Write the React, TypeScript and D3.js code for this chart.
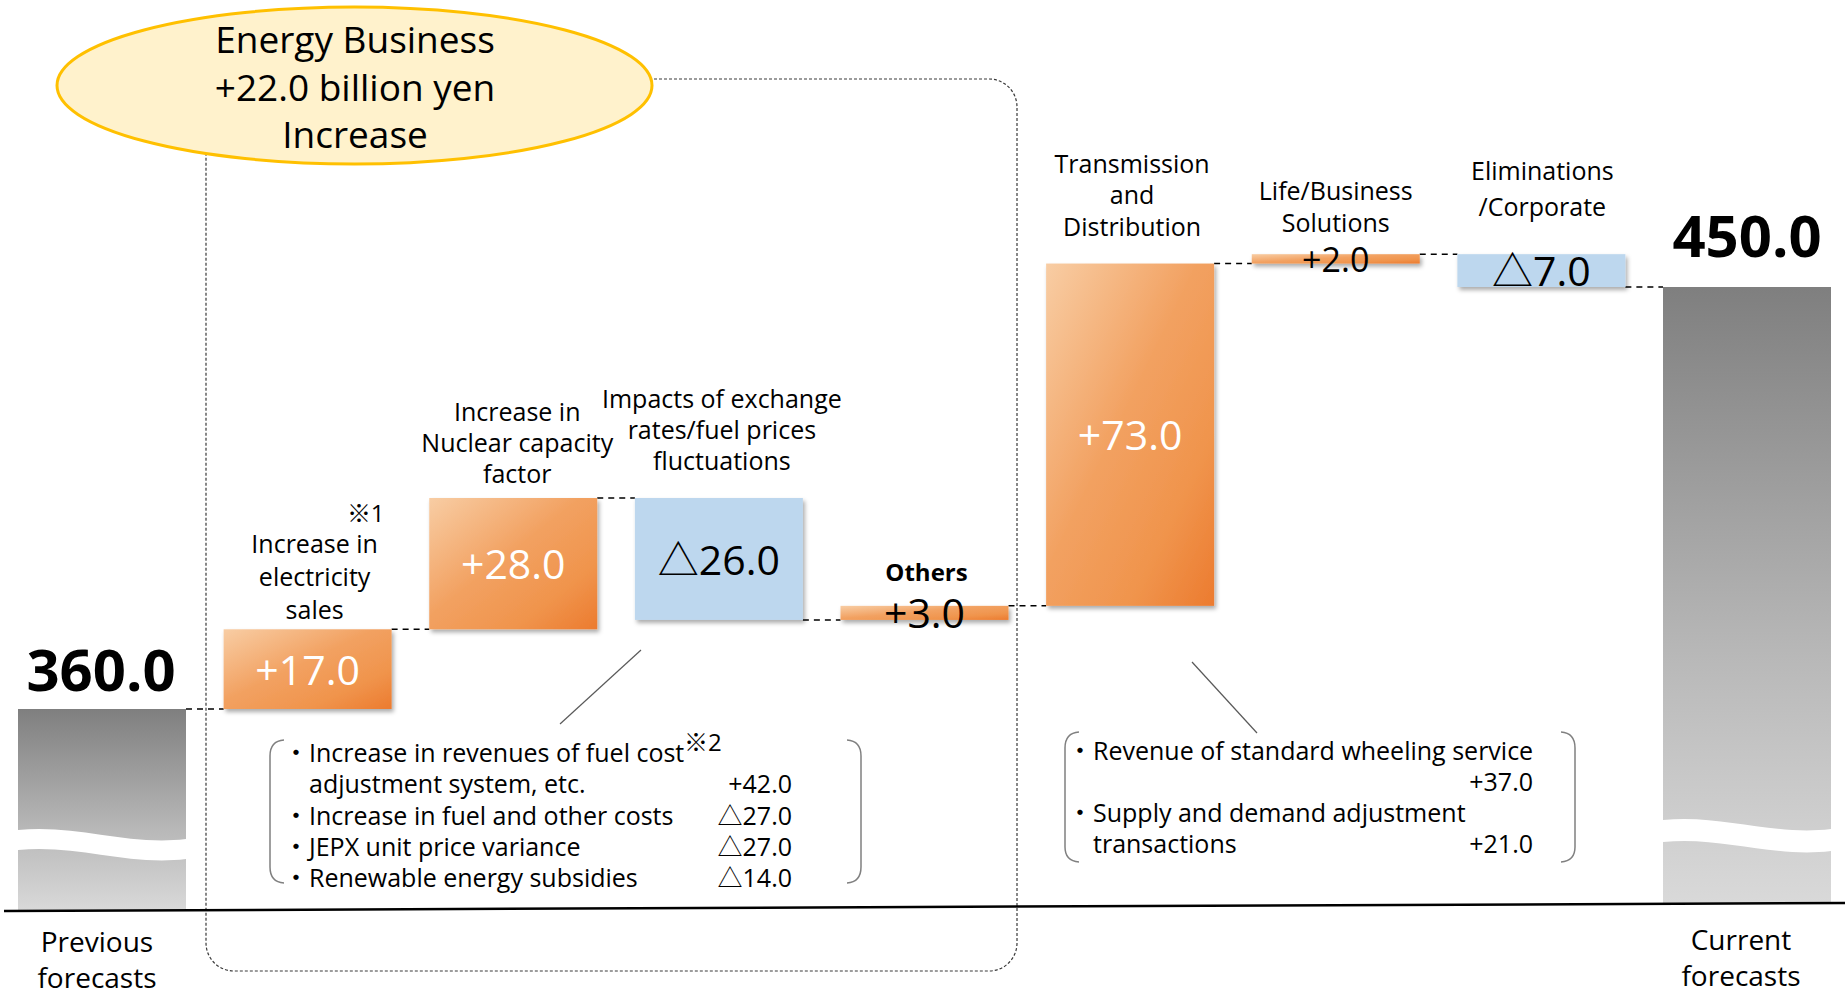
import React from 'react';
import * as d3 from 'd3';

// ---------------- data ----------------
const startLabel = ['Previous', 'forecasts'];
const endLabel = ['Current', 'forecasts'];
const startValue = 360.0;
const endValue = 450.0;
const startValueText = '360.0';
const endValueText = '450.0';
const stepNames = [
  'Increase in electricity sales',
  'Increase in Nuclear capacity factor',
  'Impacts of exchange rates/fuel prices fluctuations',
  'Others',
  'Transmission and Distribution',
  'Life/Business Solutions',
  'Eliminations/Corporate',
];
const stepDeltas = [17.0, 28.0, -26.0, 3.0, 73.0, 2.0, -7.0];
const stepValueText = ['+17.0', '+28.0', '△26.0', '+3.0', '+73.0', '+2.0', '△7.0'];
const stepHeaderLines = [
  ['Increase in', 'electricity', 'sales'],
  ['Increase in', 'Nuclear capacity', 'factor'],
  ['Impacts of exchange', 'rates/fuel prices', 'fluctuations'],
  ['Others'],
  ['Transmission', 'and', 'Distribution'],
  ['Life/Business', 'Solutions'],
  ['Eliminations', '/Corporate'],
];
const energyTitle = ['Energy Business', '+22.0 billion yen', 'Increase'];
const energyItemLines = [
  ['Increase in revenues of fuel cost', 'adjustment system, etc.'],
  ['Increase in fuel and other costs'],
  ['JEPX unit price variance'],
  ['Renewable energy subsidies'],
];
const energyItemValues = ['+42.0', '△27.0', '△27.0', '△14.0'];
const tdItemLines = [
  ['Revenue of standard wheeling service', ''],
  ['Supply and demand adjustment', 'transactions'],
];
const tdItemValues = ['+37.0', '+21.0'];

// ---------------- layout / style ----------------
const W = 1845;
const H = 995;
const FONT = "'Open Sans', 'Noto Sans CJK JP', sans-serif";
const ORANGE = 'url(#gOrange)';
const BLUE = '#BDD7EE';

const stepStyle = [
  { fill: ORANGE, color: '#fff', size: 41, gap: 10, dx: 7, lh: 33, bold: false },
  { fill: ORANGE, color: '#fff', size: 41, gap: 15, dx: 4, lh: 31, bold: false },
  { fill: BLUE, color: '#000', size: 41, gap: 28, dx: 3, lh: 31, bold: false },
  { fill: ORANGE, color: '#000', size: 41, gap: 25, dx: 2, lh: 31, bold: true },
  { fill: ORANGE, color: '#fff', size: 41, gap: 28, dx: 2, lh: 31.5, bold: false },
  { fill: ORANGE, color: '#000', size: 34, gap: 22, dx: 0, lh: 32, bold: false },
  { fill: BLUE, color: '#000', size: 41, gap: 38, dx: 1, lh: 36, bold: false },
];

const axisY = (px: number) => 911 + ((903 - 911) * (px - 4)) / (1845 - 4);

function wavePath(x0: number, w: number, yt: number, band: number) {
  const x1 = x0 + w;
  const top = `M${x0},${yt} C${x0 + 0.35 * w},${yt - 6} ${x0 + 0.65 * w},${yt + 16} ${x1},${yt + 9}`;
  const yb = yt + band;
  const bottom = `L${x1},${yb + 9} C${x0 + 0.65 * w},${yb + 16} ${x0 + 0.35 * w},${yb - 6} ${x0},${yb} Z`;
  return top + ' ' + bottom;
}

export default function App() {
  const cats = ['start', ...stepNames, 'end'];
  const x = d3.scaleBand<string>().domain(cats).range([18, 1831]).paddingInner(0.183).paddingOuter(0);
  const bw = x.bandwidth();
  const y = d3.scaleLinear().domain([startValue, endValue]).range([709, 287]);

  const cum = Array.from(d3.cumsum(stepDeltas)).map((c) => startValue + c);
  const levels = [startValue, ...cum];
  const steps = stepDeltas.map((d, i) => {
    const from = levels[i];
    const to = from + d;
    return { i, name: stepNames[i], from, to, top: y(Math.max(from, to)), bottom: y(Math.min(from, to)) };
  });

  const sx = x('start')!;
  const ex = x('end')!;
  const startTop = y(startValue);
  const endTop = y(endValue);
  const startBottom = axisY(sx + bw / 2);
  const endBottom = axisY(ex + bw / 2);

  const connectors = cats.slice(0, -1).map((c, i) => {
    const level = i === 0 ? startValue : levels[i];
    return { x1: x(c)! + bw, x2: x(cats[i + 1])!, yv: y(level) };
  });

  const listFont = 25;

  return (
    <svg
      width={W}
      height={H}
      viewBox={`0 0 ${W} ${H}`}
      style={{ position: 'absolute', left: 0, top: 0, display: 'block', background: '#fff' }}
      fontFamily={FONT}
    >
      <defs>
        <linearGradient id="gOrange" x1="0" y1="0" x2="1" y2="1">
          <stop offset="0" stopColor="#F8CDA4" />
          <stop offset="0.45" stopColor="#F2A161" />
          <stop offset="0.75" stopColor="#F0944C" />
          <stop offset="1" stopColor="#EC7B2F" />
        </linearGradient>
        <linearGradient id="gGray" x1="0" y1="0" x2="0" y2="1">
          <stop offset="0" stopColor="#7F7F7F" />
          <stop offset="0.6" stopColor="#B8B8B8" />
          <stop offset="1" stopColor="#D9D9D9" />
        </linearGradient>
        <filter id="shadow" x="-10%" y="-60%" width="125%" height="260%">
          <feDropShadow dx="2" dy="3" stdDeviation="2.2" floodColor="#000" floodOpacity="0.33" />
        </filter>
      </defs>

      {/* energy business dashed frame */}
      <rect x={206} y={79} width={811} height={892} rx={28} ry={28} fill="none" stroke="#3a3a3a" strokeWidth={1.2} strokeDasharray="3 2" />
      <ellipse cx={354.5} cy={85.5} rx={297.5} ry={78.5} fill="#FFF2CC" stroke="#FFC000" strokeWidth={3} />
      {energyTitle.map((t, i) => (
        <text key={t} x={355} y={53 + i * 47.5} textAnchor="middle" fontSize={37} fill="#000">
          {t}
        </text>
      ))}

      {/* start / end gray bars */}
      <rect x={sx} y={startTop} width={bw} height={startBottom - startTop} fill="url(#gGray)" />
      <path d={wavePath(sx, bw, 830, 20)} fill="#fff" />
      <rect x={ex} y={endTop} width={bw} height={endBottom - endTop} fill="url(#gGray)" />
      <path d={wavePath(ex, bw, 820, 22)} fill="#fff" />
      <text x={sx + bw / 2 - 1} y={startTop - 18} textAnchor="middle" fontSize={58} fontWeight={700} fill="#000">
        {startValueText}
      </text>
      <text x={ex + bw / 2} y={endTop - 30} textAnchor="middle" fontSize={58} fontWeight={700} fill="#000">
        {endValueText}
      </text>

      {/* connectors */}
      {connectors.map((c, i) => (
        <line key={i} x1={c.x1} x2={c.x2} y1={c.yv} y2={c.yv} stroke="#000" strokeWidth={1.5} strokeDasharray="6 5" />
      ))}

      {/* step bars */}
      {steps.map((s) => {
        const st = stepStyle[s.i];
        const bx = x(s.name)!;
        return (
          <rect key={s.name} x={bx} y={s.top} width={bw} height={Math.max(1, s.bottom - s.top)} fill={st.fill} filter="url(#shadow)" />
        );
      })}

      {/* step value texts and headers */}
      {steps.map((s) => {
        const st = stepStyle[s.i];
        const cx = x(s.name)! + bw / 2;
        const cy = (s.top + s.bottom) / 2;
        const lines = stepHeaderLines[s.i];
        const lastBase = s.top - st.gap;
        return (
          <g key={'t' + s.name}>
            <text x={cx} y={cy + 0.38 * st.size} textAnchor="middle" fontSize={st.size} fill={st.color}>
              {stepValueText[s.i]}
            </text>
            {lines.map((ln, k) => (
              <text
                key={k}
                x={cx + st.dx}
                y={lastBase - (lines.length - 1 - k) * st.lh}
                textAnchor="middle"
                fontSize={st.bold ? 24 : 25}
                fontWeight={st.bold ? 700 : 400}
                fill="#000"
              >
                {ln}
              </text>
            ))}
            {s.i === 0 && (
              <text x={x(s.name)! + bw - 7} y={lastBase - lines.length * st.lh + 2} textAnchor="end" fontSize={24} fill="#000">
                ※1
              </text>
            )}
          </g>
        );
      })}

      {/* callout lines */}
      <line x1={641} y1={650} x2={560} y2={724} stroke="#595959" strokeWidth={1.2} />
      <line x1={1192} y1={662} x2={1257} y2={733} stroke="#595959" strokeWidth={1.2} />

      {/* bracket box 1 */}
      <path d="M284,740 Q270,741 270,756 L270,867 Q270,882 284,883" fill="none" stroke="#808080" strokeWidth={1.5} />
      <path d="M847,740 Q861,741 861,756 L861,867 Q861,882 847,883" fill="none" stroke="#808080" strokeWidth={1.5} />
      {(() => {
        let row = 0;
        const out: React.ReactNode[] = [];
        energyItemLines.forEach((lines, i) => {
          lines.forEach((ln, k) => {
            const by = 762 + row * 31.3;
            if (k === 0)
              out.push(
                <text key={`b${i}`} x={296} y={by} textAnchor="middle" fontSize={listFont} fill="#000">・</text>
              );
            out.push(
              <text key={`l${i}-${k}`} x={309} y={by} fontSize={listFont} fill="#000">{ln}</text>
            );
            if (k === lines.length - 1)
              out.push(
                <text key={`v${i}`} x={792} y={by} textAnchor="end" fontSize={listFont} fill="#000">{energyItemValues[i]}</text>
              );
            row++;
          });
        });
        return out;
      })()}
      <text x={684} y={751} fontSize={24} fill="#000">※2</text>

      {/* bracket box 2 */}
      <path d="M1079,732 Q1065,733 1065,748 L1065,847 Q1065,861 1079,862" fill="none" stroke="#808080" strokeWidth={1.5} />
      <path d="M1561,732 Q1575,733 1575,748 L1575,847 Q1575,861 1561,862" fill="none" stroke="#808080" strokeWidth={1.5} />
      {(() => {
        let row = 0;
        const out: React.ReactNode[] = [];
        tdItemLines.forEach((lines, i) => {
          lines.forEach((ln, k) => {
            const by = 760 + row * 31;
            if (k === 0)
              out.push(
                <text key={`b${i}`} x={1080} y={by} textAnchor="middle" fontSize={listFont} fill="#000">・</text>
              );
            if (ln)
              out.push(
                <text key={`l${i}-${k}`} x={1093} y={by} fontSize={listFont} fill="#000">{ln}</text>
              );
            if (k === lines.length - 1)
              out.push(
                <text key={`v${i}`} x={1533} y={by} textAnchor="end" fontSize={listFont} fill="#000">{tdItemValues[i]}</text>
              );
            row++;
          });
        });
        return out;
      })()}

      {/* axis */}
      <line x1={4} y1={axisY(4)} x2={1845} y2={axisY(1845)} stroke="#000" strokeWidth={2.5} />

      {/* category labels for start/end */}
      {startLabel.map((t, i) => (
        <text key={t} x={sx + bw / 2 - 5} y={952 + i * 36} textAnchor="middle" fontSize={28} fill="#000">{t}</text>
      ))}
      {endLabel.map((t, i) => (
        <text key={t} x={ex + bw / 2 - 6} y={950 + i * 36} textAnchor="middle" fontSize={28} fill="#000">{t}</text>
      ))}
    </svg>
  );
}
